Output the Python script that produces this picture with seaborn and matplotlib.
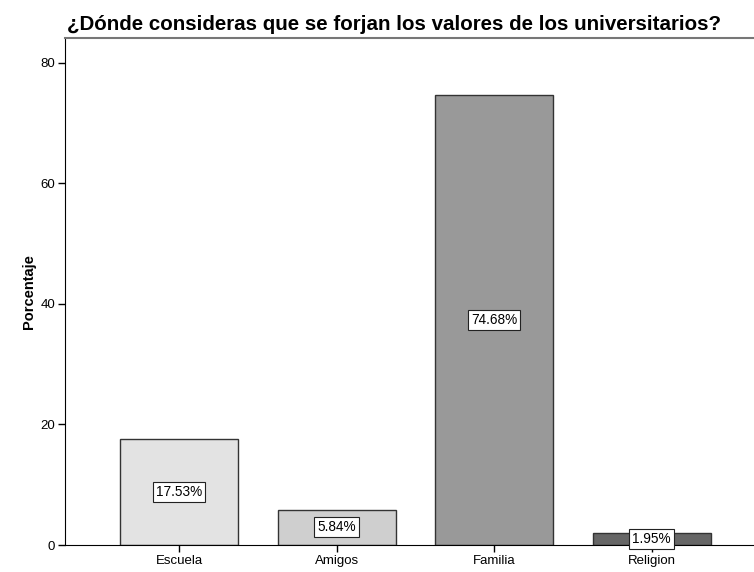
import matplotlib
matplotlib.use("Agg")
import matplotlib.pyplot as plt
import seaborn as sns
import pandas as pd

sns.set_style("white")
plt.rcParams['font.family'] = ['Liberation Sans', 'DejaVu Sans']
plt.rcParams['text.color'] = 'black'
plt.rcParams['axes.labelcolor'] = 'black'

categorias = ['Escuela', 'Amigos', 'Familia', 'Religion']
porcentajes = [17.53, 5.84, 74.68, 1.95]
colores = ['#e3e3e3', '#cfcfcf', '#999999', '#666666']

df = pd.DataFrame({'lugar': categorias, 'pct': porcentajes})

fig = plt.figure(figsize=(7.54, 5.72), dpi=100)
ax = fig.add_axes([65 / 754, 27 / 572, 1 - 65 / 754 + 0.002, (545 - 38) / 572])

sns.barplot(data=df, x='lugar', y='pct', hue='lugar', palette=colores,
            width=0.75, edgecolor='#333333', linewidth=1.0, legend=False, ax=ax)

for i, v in enumerate(porcentajes):
    ax.text(i, v / 2, f'{v:.2f}%', ha='center', va='center', fontsize=9.8,
            bbox=dict(boxstyle='square,pad=0.22', fc='white', ec='#222222', lw=0.8))

ax.set_xlim(-0.726, 3.66)
ax.set_ylim(0, 84.1)
ax.set_yticks([0, 20, 40, 60, 80])
ax.set_xlabel('')
ax.set_ylabel('Porcentaje', fontsize=10.5, fontweight='bold', labelpad=3)
ax.tick_params(axis='both', which='both', direction='out', length=5, width=1,
               labelsize=9.5, colors='black', left=True, bottom=True, pad=2)
ax.spines['left'].set_color('black')
ax.spines['bottom'].set_color('black')
ax.spines['top'].set_color('#777777')
ax.spines['top'].set_linewidth(1.5)
ax.spines['right'].set_visible(False)

fig.text(67 / 754, 1 - 24 / 572, '¿Dónde consideras que se forjan los valores de los universitarios?',
         fontsize=14.8, fontweight='bold', ha='left', va='center')

fig.savefig('out.png', dpi=100)
